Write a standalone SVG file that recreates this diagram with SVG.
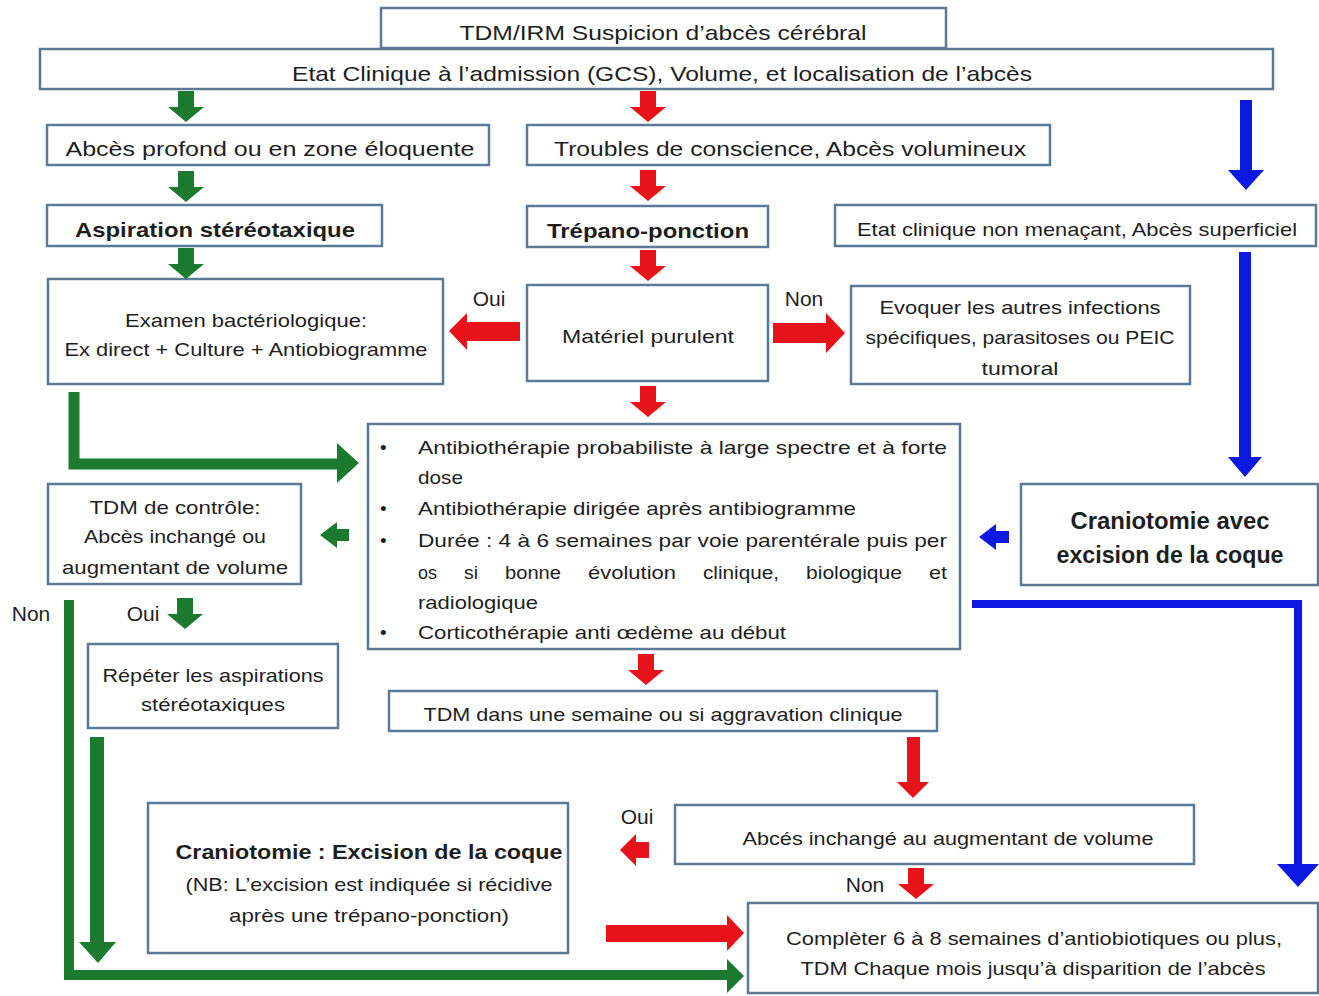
<svg xmlns="http://www.w3.org/2000/svg" xmlns:xlink="http://www.w3.org/1999/xlink" width="1319" height="996" viewBox="0 0 1319 996">
<style>
.box{fill:#fff;stroke:#5b7a96;stroke-width:2.5}
text{font-family:"Liberation Sans",Arial,sans-serif;fill:#1e1e1e}
.c{text-anchor:middle}
.m{font-size:21px}
.s{font-size:19px}
.b{font-weight:bold}
.g{fill:#1b7a2e}
.r{fill:#e8131a}
.bl{fill:#0d18e0}
</style>
<defs>
<path id="dS" d="M-8,0H8V16H18L0,31L-18,16H-8Z"/>
</defs>
<rect width="1319" height="996" fill="#fff"/>

<g id="n1"><rect class="box" x="381" y="8" width="565" height="40"/>
<text class="m c" x="663" y="40" textLength="407" lengthAdjust="spacingAndGlyphs">TDM/IRM Suspicion d’abcès cérébral</text></g>
<g id="n2"><rect class="box" x="40" y="49" width="1233" height="40"/>
<text class="m c" x="662" y="81" textLength="740" lengthAdjust="spacingAndGlyphs">Etat Clinique à l’admission (GCS), Volume, et localisation de l’abcès</text></g>
<g id="n3"><rect class="box" x="47" y="125" width="442" height="40"/>
<text class="m c" x="270" y="156" textLength="409" lengthAdjust="spacingAndGlyphs">Abcès profond ou en zone éloquente</text></g>
<g id="n4"><rect class="box" x="527" y="125" width="523" height="40"/>
<text class="m c" x="790" y="156" textLength="472" lengthAdjust="spacingAndGlyphs">Troubles de conscience, Abcès volumineux</text></g>
<g id="n5"><rect class="box" x="47" y="205" width="335" height="41"/>
<text class="m c b" x="215" y="237" textLength="280" lengthAdjust="spacingAndGlyphs">Aspiration stéréotaxique</text></g>
<g id="n6"><rect class="box" x="527" y="206" width="241" height="41"/>
<text class="m c b" x="648" y="238" textLength="202" lengthAdjust="spacingAndGlyphs">Trépano-ponction</text></g>
<g id="n7"><rect class="box" x="835" y="205" width="481" height="41"/>
<text class="s c" x="1077" y="236" textLength="440" lengthAdjust="spacingAndGlyphs">Etat clinique non menaçant, Abcès superficiel</text></g>
<g id="n8"><rect class="box" x="48" y="279" width="395" height="105"/>
<text class="s c" x="246" y="327" textLength="242" lengthAdjust="spacingAndGlyphs">Examen bactériologique:</text>
<text class="s c" x="246" y="356" textLength="363" lengthAdjust="spacingAndGlyphs">Ex direct + Culture + Antiobiogramme</text></g>
<g id="n9"><rect class="box" x="527" y="285" width="241" height="96"/>
<text class="s c" x="648" y="343" textLength="172" lengthAdjust="spacingAndGlyphs">Matériel purulent</text></g>
<g id="n10"><rect class="box" x="851" y="286" width="339" height="98"/>
<text class="s c" x="1020" y="314" textLength="281" lengthAdjust="spacingAndGlyphs">Evoquer les autres infections</text>
<text class="s c" x="1020" y="344" textLength="309" lengthAdjust="spacingAndGlyphs">spécifiques, parasitoses ou PEIC</text>
<text class="s c" x="1020" y="375" textLength="77" lengthAdjust="spacingAndGlyphs">tumoral</text></g>
<g id="n11"><rect class="box" x="368" y="424" width="592" height="225"/>
<text class="s" x="380" y="454">•</text>
<text class="s" x="418" y="454" textLength="529" lengthAdjust="spacingAndGlyphs">Antibiothérapie probabiliste à large spectre et à forte</text>
<text class="s" x="418" y="484" textLength="45" lengthAdjust="spacingAndGlyphs">dose</text>
<text class="s" x="380" y="515">•</text>
<text class="s" x="418" y="515" textLength="438" lengthAdjust="spacingAndGlyphs">Antibiothérapie dirigée après antibiogramme</text>
<text class="s" x="380" y="547">•</text>
<text class="s" x="418" y="547" textLength="529" lengthAdjust="spacingAndGlyphs">Durée : 4 à 6 semaines par voie parentérale puis per</text>
<text class="s" x="418" y="579" textLength="19" lengthAdjust="spacingAndGlyphs">os</text>
<text class="s" x="464" y="579" textLength="14" lengthAdjust="spacingAndGlyphs">si</text>
<text class="s" x="505" y="579" textLength="56" lengthAdjust="spacingAndGlyphs">bonne</text>
<text class="s" x="588" y="579" textLength="88" lengthAdjust="spacingAndGlyphs">évolution</text>
<text class="s" x="703" y="579" textLength="76" lengthAdjust="spacingAndGlyphs">clinique,</text>
<text class="s" x="806" y="579" textLength="96" lengthAdjust="spacingAndGlyphs">biologique</text>
<text class="s" x="929" y="579" textLength="18" lengthAdjust="spacingAndGlyphs">et</text>
<text class="s" x="418" y="609" textLength="120" lengthAdjust="spacingAndGlyphs">radiologique</text>
<text class="s" x="380" y="639">•</text>
<text class="s" x="418" y="639" textLength="368" lengthAdjust="spacingAndGlyphs">Corticothérapie anti œdème au début</text></g>
<g id="n12"><rect class="box" x="48" y="484" width="253" height="100"/>
<text class="s c" x="175" y="514" textLength="171" lengthAdjust="spacingAndGlyphs">TDM de contrôle:</text>
<text class="s c" x="175" y="543" textLength="182" lengthAdjust="spacingAndGlyphs">Abcès inchangé ou</text>
<text class="s c" x="175" y="574" textLength="226" lengthAdjust="spacingAndGlyphs">augmentant de volume</text></g>
<g id="n13"><rect class="box" x="1021" y="484" width="297" height="101"/>
<text class="c b" style="font-size:23px" x="1170" y="529" textLength="199" lengthAdjust="spacingAndGlyphs">Craniotomie avec</text>
<text class="c b" style="font-size:23px" x="1170" y="563" textLength="227" lengthAdjust="spacingAndGlyphs">excision de la coque</text></g>
<g id="n14"><rect class="box" x="88" y="644" width="250" height="84"/>
<text class="s c" x="213" y="682" textLength="221" lengthAdjust="spacingAndGlyphs">Répéter les aspirations</text>
<text class="s c" x="213" y="711" textLength="144" lengthAdjust="spacingAndGlyphs">stéréotaxiques</text></g>
<g id="n15"><rect class="box" x="389" y="691" width="548" height="40"/>
<text class="s c" x="663" y="721" textLength="479" lengthAdjust="spacingAndGlyphs">TDM dans une semaine ou si aggravation clinique</text></g>
<g id="n16"><rect class="box" x="148" y="803" width="420" height="150"/>
<text class="m c b" x="369" y="859" textLength="387" lengthAdjust="spacingAndGlyphs">Craniotomie : Excision de la coque</text>
<text class="s c" x="369" y="891" textLength="367" lengthAdjust="spacingAndGlyphs">(NB: L’excision est indiquée si récidive</text>
<text class="s c" x="369" y="922" textLength="280" lengthAdjust="spacingAndGlyphs">après une trépano-ponction)</text></g>
<g id="n17"><rect class="box" x="675" y="805" width="519" height="59"/>
<text class="s c" x="948" y="845" textLength="411" lengthAdjust="spacingAndGlyphs">Abcés inchangé au augmentant de volume</text></g>
<g id="n18"><rect class="box" x="748" y="903" width="570" height="90"/>
<text class="s c" x="1034" y="945" textLength="496" lengthAdjust="spacingAndGlyphs">Complèter 6 à 8 semaines d’antiobiotiques ou plus,</text>
<text class="s c" x="1033" y="975" textLength="465" lengthAdjust="spacingAndGlyphs">TDM Chaque mois jusqu’à disparition de l’abcès</text></g>

<g id="labels">
<text class="m c" x="489" y="306">Oui</text>
<text class="m c" x="804" y="306">Non</text>
<text class="m c" x="31" y="621">Non</text>
<text class="m c" x="143" y="621">Oui</text>
<text class="m c" x="637" y="824">Oui</text>
<text class="m c" x="865" y="892">Non</text>
</g>

<g id="connectors">
<use xlink:href="#dS" x="186" y="91" class="g"/>
<use xlink:href="#dS" x="186" y="171" class="g"/>
<use xlink:href="#dS" x="186" y="248" class="g"/>
<use xlink:href="#dS" x="648" y="91" class="r"/>
<use xlink:href="#dS" x="648" y="170" class="r"/>
<use xlink:href="#dS" x="648" y="250" class="r"/>
<use xlink:href="#dS" x="648" y="386" class="r"/>
<use xlink:href="#dS" x="646" y="654" class="r"/>
<use xlink:href="#dS" x="185" y="598" class="g"/>
<use xlink:href="#dS" x="916" y="868" class="r"/>
<path class="bl" d="M1240,100H1252V170H1264L1246,190L1228,170H1240Z"/>
<path class="bl" d="M1239,252H1251V457H1262L1245,477L1228,457H1239Z"/>
<path class="r" d="M907,737H920V782H929L913,798L897,782H907Z"/>
<path class="r" d="M449,331L467,313V322H520V341H467V350Z"/>
<path class="r" d="M845,333L826,313V323H773V343H826V353Z"/>
<path class="g" d="M320,535L337,522V529H349V541H337V548Z"/>
<path class="bl" d="M979,537L996,524V531H1009V543H996V550Z"/>
<path class="r" d="M620,850L636,834V842H649V858H636V866Z"/>
<path d="M74,392V464H340" fill="none" stroke="#1b7a2e" stroke-width="11"/>
<path class="g" d="M359,463L337,443V483Z"/>
<path d="M69,600V975H730" fill="none" stroke="#1b7a2e" stroke-width="10"/>
<path class="g" d="M744,976L727,959V993Z"/>
<path d="M97,737V944" fill="none" stroke="#1b7a2e" stroke-width="14"/>
<path class="g" d="M79,942H116L98,963Z"/>
<path class="r" d="M606,925H727V915L744,933L727,951V942H606Z"/>
<path d="M972,604H1298V866" fill="none" stroke="#0d18e0" stroke-width="8"/>
<path class="bl" d="M1277,864H1319L1298,887Z"/>
</g>
</svg>
